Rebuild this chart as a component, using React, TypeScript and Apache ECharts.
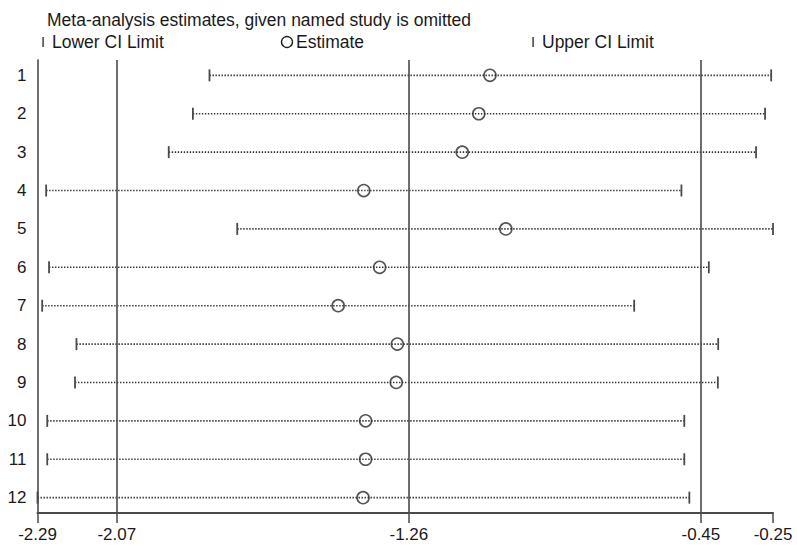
import React, { useEffect, useRef } from "react";
import * as echarts from "echarts";

const studies = [1, 2, 3, 4, 5, 6, 7, 8, 9, 10, 11, 12];
const estimates = [-1.035, -1.066, -1.112, -1.385, -0.991, -1.341, -1.456, -1.292, -1.295, -1.38, -1.38, -1.387];
const lowerCI = [-1.813, -1.859, -1.926, -2.266, -1.736, -2.258, -2.277, -2.182, -2.186, -2.263, -2.263, -2.29];
const upperCI = [-0.255, -0.272, -0.297, -0.504, -0.25, -0.428, -0.635, -0.402, -0.403, -0.496, -0.496, -0.482];
const refLines = [-2.07, -1.26, -0.45];
const xTicks = [-2.29, -2.07, -1.26, -0.45, -0.25];
const titleText = "Meta-analysis estimates, given named study is omitted";

const FONT = "'Liberation Sans', Arial, Helvetica, sans-serif";
const DARK = "#1a1a1a";
const LINE = "#4a4a4a";

export default function App() {
  const ref = useRef<HTMLDivElement>(null);
  useEffect(() => {
    document.body.style.margin = "0";
    if (!ref.current) return;
    const chart = echarts.init(ref.current, undefined, { renderer: "svg" });
    const ciData = studies.map((s, i) => [s, lowerCI[i], upperCI[i]]);
    const estData = studies.map((s, i) => [estimates[i], s]);
    chart.setOption({
      animation: false,
      textStyle: { fontFamily: FONT },
      title: {
        text: titleText,
        left: 42,
        top: 6,
        textStyle: { fontFamily: FONT, fontSize: 17.5, fontWeight: "normal", color: DARK },
      },
      graphic: [
        { type: "rect", shape: { x: 42.3, y: 37, width: 1.6, height: 10 }, style: { fill: LINE } },
        { type: "text", x: 52, y: 42, style: { text: "Lower CI Limit", fontFamily: FONT, fontSize: 17.5, fill: DARK, verticalAlign: "middle" } },
        { type: "circle", shape: { cx: 287, cy: 42, r: 5.5 }, style: { fill: "none", stroke: "#222", lineWidth: 1.4 } },
        { type: "text", x: 296, y: 42, style: { text: "Estimate", fontFamily: FONT, fontSize: 17.5, fill: DARK, verticalAlign: "middle" } },
        { type: "rect", shape: { x: 532.3, y: 37, width: 1.6, height: 10 }, style: { fill: LINE } },
        { type: "text", x: 542, y: 42, style: { text: "Upper CI Limit", fontFamily: FONT, fontSize: 17.5, fill: DARK, verticalAlign: "middle" } },
      ],
      grid: { left: 37.5, right: 24, top: 60, bottom: 35, containLabel: false },
      xAxis: {
        type: "value",
        min: -2.29,
        max: -0.25,
        splitLine: { show: false },
        axisLine: { show: true, onZero: false, lineStyle: { color: LINE, width: 2 } },
        axisTick: { show: true, customValues: xTicks, length: 10, lineStyle: { color: LINE, width: 1.5 } },
        axisLabel: {
          customValues: xTicks,
          formatter: (v: number) => v.toFixed(2),
          margin: 13,
          fontFamily: FONT,
          fontSize: 17,
          color: DARK,
        },
      },
      yAxis: {
        type: "value",
        inverse: true,
        min: 0.6,
        max: 12.4,
        splitLine: { show: false },
        axisLine: { show: true, onZero: false, lineStyle: { color: LINE, width: 1.6 } },
        axisTick: { show: false },
        axisLabel: {
          customValues: studies,
          formatter: (v: number) => String(Math.round(v)),
          margin: 11,
          fontFamily: FONT,
          fontSize: 17,
          color: DARK,
        },
      },
      series: [
        {
          type: "custom",
          name: "CI",
          data: ciData,
          encode: { x: [1, 2], y: 0 },
          silent: true,
          renderItem: (params: any, api: any) => {
            const y = api.value(0);
            const p1 = api.coord([api.value(1), y]);
            const p2 = api.coord([api.value(2), y]);
            return {
              type: "group",
              children: [
                {
                  type: "line",
                  shape: { x1: p1[0], y1: p1[1], x2: p2[0], y2: p2[1] },
                  style: { stroke: "#333", lineWidth: 1.6, lineDash: [1.4, 1.6] },
                },
                {
                  type: "line",
                  shape: { x1: p1[0], y1: p1[1] - 6, x2: p1[0], y2: p1[1] + 6 },
                  style: { stroke: LINE, lineWidth: 1.8 },
                },
                {
                  type: "line",
                  shape: { x1: p2[0], y1: p2[1] - 6, x2: p2[0], y2: p2[1] + 6 },
                  style: { stroke: LINE, lineWidth: 1.8 },
                },
              ],
            };
          },
          z: 2,
        },
        {
          type: "scatter",
          name: "Estimate",
          data: estData,
          symbol: "circle",
          symbolSize: 12,
          itemStyle: { color: "rgba(0,0,0,0)", borderColor: "#2a2a2a", borderWidth: 1.6 },
          z: 3,
          markLine: {
            silent: true,
            symbol: "none",
            label: { show: false },
            lineStyle: { type: "solid", color: LINE, width: 1.6 },
            data: refLines.map((v) => ({ xAxis: v })),
          },
        },
      ],
    });
    return () => chart.dispose();
  }, []);
  return <div ref={ref} style={{ width: 797, height: 548 }} />;
}
